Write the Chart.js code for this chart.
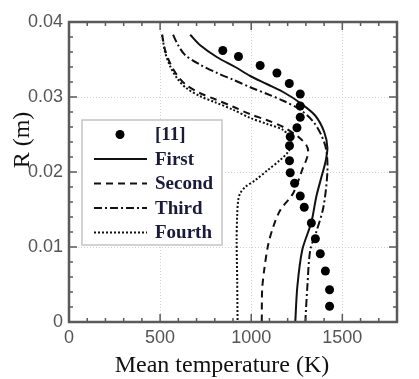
<!DOCTYPE html>
<html>
<head>
<meta charset="utf-8">
<script src="https://cdn.jsdelivr.net/npm/chart.js@4.4.0/dist/chart.umd.min.js"></script>
<style>
  html, body { margin: 0; padding: 0; background: #fff; }
</style>
</head>
<body>
<canvas id="chart" width="419" height="379"></canvas>
<script>
// Axis ticks
const xTicks = [0, 500, 1000, 1500];
const yTicks = [0, 0.01, 0.02, 0.03, 0.04];

// [11] measured points
const refT = [844, 930, 1049, 1141, 1209, 1269, 1269, 1269, 1251, 1214, 1210, 1210, 1214, 1238, 1269, 1291, 1330, 1352, 1379, 1407, 1430, 1430];
const refR = [0.0362, 0.0354, 0.0342, 0.0332, 0.0318, 0.0304, 0.0288, 0.0273, 0.0259, 0.0247, 0.0235, 0.0215, 0.0199, 0.0185, 0.0168, 0.0153, 0.0132, 0.0111, 0.0091, 0.0068, 0.0043, 0.0021];

// First
const firstT = [665, 720, 813, 912, 995, 1088, 1187, 1269, 1352, 1401, 1418, 1407, 1385, 1357, 1330, 1280, 1253, 1242];
const firstR = [0.0383, 0.0369, 0.0353, 0.0340, 0.0328, 0.0317, 0.0305, 0.0292, 0.0275, 0.0253, 0.0232, 0.0213, 0.0193, 0.0167, 0.0133, 0.0096, 0.0047, 0.0001];

// Second
const secondT = [511, 527, 555, 593, 643, 720, 802, 901, 995, 1088, 1176, 1258, 1302, 1313, 1302, 1286, 1231, 1159, 1121, 1093, 1071, 1060, 1058];
const secondR = [0.0383, 0.0363, 0.0345, 0.0329, 0.0316, 0.0305, 0.0297, 0.0287, 0.0277, 0.0269, 0.0260, 0.0247, 0.0236, 0.0227, 0.0216, 0.0207, 0.0172, 0.0149, 0.0127, 0.0103, 0.0069, 0.0043, 0.0001];

// Third
const thirdT = [571, 599, 637, 720, 813, 901, 995, 1088, 1176, 1269, 1341, 1385, 1412, 1418, 1396, 1357, 1324, 1308, 1297];
const thirdR = [0.0383, 0.0369, 0.0356, 0.0343, 0.0332, 0.0323, 0.0313, 0.0304, 0.0295, 0.0283, 0.0267, 0.0249, 0.0229, 0.0200, 0.0153, 0.0120, 0.0096, 0.0047, 0.0001];

// Fourth
const fourthT = [511, 527, 555, 593, 643, 720, 802, 901, 995, 1088, 1176, 1214, 1220, 1203, 1159, 1093, 1022, 967, 940, 929, 923, 920, 923, 925];
const fourthR = [0.0383, 0.0360, 0.0341, 0.0325, 0.0312, 0.0301, 0.0293, 0.0283, 0.0272, 0.0264, 0.0256, 0.0245, 0.0236, 0.0227, 0.0216, 0.0203, 0.0189, 0.0180, 0.0172, 0.0163, 0.0143, 0.0109, 0.0056, 0.0001];

const toPoints = (xs, ys) => xs.map((x, i) => ({ x, y: ys[i] }));

const lineSeries = (label, xs, ys, dash) => ({
  label,
  data: toPoints(xs, ys),
  showLine: true,
  borderColor: '#111',
  borderWidth: 2,
  borderDash: dash,
  pointRadius: 0,
  tension: 0.3,
  fill: false
});

// inward ticks on all four sides + frame
const frameTicks = {
  id: 'frameTicks',
  afterDatasetsDraw(chart) {
    const { ctx, chartArea: a, scales: { x, y } } = chart;
    ctx.save();
    ctx.strokeStyle = '#5a5a5a';
    ctx.lineWidth = 1.5;
    ctx.beginPath();
    for (let i = 0; i <= 18; i++) {
      const px = x.getPixelForValue(i * 100);
      const len = i % 5 === 0 ? 8 : 4;
      ctx.moveTo(px, a.bottom); ctx.lineTo(px, a.bottom - len);
      ctx.moveTo(px, a.top); ctx.lineTo(px, a.top + len);
    }
    for (let i = 0; i <= 20; i++) {
      const py = y.getPixelForValue(i * 0.002);
      const len = i % 5 === 0 ? 8 : 4;
      ctx.moveTo(a.left, py); ctx.lineTo(a.left + len, py);
      ctx.moveTo(a.right, py); ctx.lineTo(a.right - len, py);
    }
    ctx.stroke();
    ctx.lineWidth = 2.5;
    ctx.strokeRect(a.left, a.top, a.right - a.left, a.bottom - a.top);
    ctx.restore();
  }
};

// boxed legend inside the plot + axis titles
const legendAndTitles = {
  id: 'legendAndTitles',
  afterDraw(chart) {
    const ctx = chart.ctx;
    ctx.save();
    ctx.fillStyle = '#fff';
    ctx.fillRect(82, 120, 140, 125);
    ctx.strokeStyle = '#c4c4c4';
    ctx.lineWidth = 1.5;
    ctx.strokeRect(82, 120, 140, 125);

    ctx.font = 'bold 19px "Liberation Serif", "Times New Roman", serif';
    ctx.textBaseline = 'middle';
    chart.data.datasets.forEach((ds, i) => {
      const cy = 134.5 + i * 24.5;
      if (ds.showLine) {
        ctx.setLineDash(ds.borderDash || []);
        ctx.strokeStyle = ds.borderColor;
        ctx.lineWidth = 2;
        ctx.beginPath();
        ctx.moveTo(94, cy);
        ctx.lineTo(147, cy);
        ctx.stroke();
        ctx.setLineDash([]);
      } else {
        ctx.fillStyle = ds.backgroundColor;
        ctx.beginPath();
        ctx.arc(120, cy, 4.5, 0, Math.PI * 2);
        ctx.fill();
      }
      ctx.fillStyle = '#1a1a3a';
      ctx.fillText(ds.label, 155, cy + 1);
    });

    ctx.fillStyle = '#111';
    ctx.font = '24px "Liberation Serif", "Times New Roman", serif';
    ctx.textAlign = 'center';
    ctx.fillText('Mean temperature (K)', 222, 366);
    ctx.translate(23, 140);
    ctx.rotate(-Math.PI / 2);
    ctx.fillText('R (m)', 0, 0);
    ctx.restore();
  }
};

const tickFont = { family: '"Liberation Sans", Arial, sans-serif', size: 18 };

new Chart(document.getElementById('chart'), {
  type: 'scatter',
  data: {
    datasets: [
      {
        label: '[11]',
        data: toPoints(refT, refR),
        backgroundColor: '#000',
        borderWidth: 0,
        pointRadius: 4.5
      },
      lineSeries('First', firstT, firstR, []),
      lineSeries('Second', secondT, secondR, [7, 5]),
      lineSeries('Third', thirdT, thirdR, [8, 3, 2, 3]),
      lineSeries('Fourth', fourthT, fourthR, [2, 2])
    ]
  },
  options: {
    responsive: false,
    animation: false,
    layout: { padding: { left: 0, right: 22, top: 22, bottom: 0 } },
    scales: {
      x: {
        type: 'linear',
        min: 0,
        max: 1800,
        afterBuildTicks: (s) => { s.ticks = xTicks.map(v => ({ value: v })); },
        afterFit: (s) => { s.height = 57; },
        grid: { color: '#d0d0d0', lineWidth: 1, drawTicks: false },
        border: { display: false, dash: [1, 2] },
        ticks: { padding: 5, color: '#555', font: tickFont, maxRotation: 0, callback: v => String(v) }
      },
      y: {
        type: 'linear',
        min: 0,
        max: 0.04,
        afterBuildTicks: (s) => { s.ticks = yTicks.map(v => ({ value: v })); },
        afterFit: (s) => { s.width = 69; },
        grid: { color: '#d0d0d0', lineWidth: 1, drawTicks: false },
        border: { display: false, dash: [1, 2] },
        ticks: { padding: 6, color: '#555', font: tickFont, callback: v => (v === 0 ? '0' : v.toFixed(2)) }
      }
    },
    plugins: {
      legend: { display: false },
      tooltip: { enabled: false }
    }
  },
  plugins: [frameTicks, legendAndTitles]
});
</script>
</body>
</html>
